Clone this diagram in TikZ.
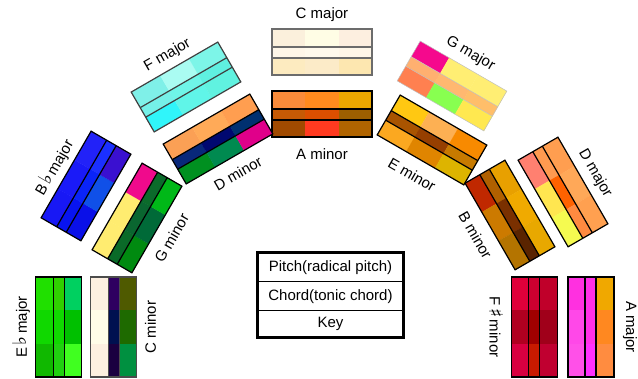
\documentclass[tikz,border=0pt]{standalone}
\usepackage{fontspec}
\setmainfont{Liberation Sans}
\newfontfamily\symfont{DejaVu Sans}
\newcommand\accsym[1]{{\symfont\fontsize{19}{19}\selectfont #1}}
\newcommand\keyblock[9]{%
 \begin{scope}[shift={(#1)},rotate=#2,transform shape]
  \foreach \c [count=\i from 0] in {#3}{\edef\tmpc{\noexpand\definecolor{cc}{HTML}{\c}}\tmpc\fill[cc] (-50+\i*33.3333,5) rectangle ++(33.6,18);}
  \foreach \c [count=\i from 0] in {#4}{\edef\tmpc{\noexpand\definecolor{cc}{HTML}{\c}}\tmpc\fill[cc] (-50+\i*33.3333,-6) rectangle ++(33.6,11);}
  \foreach \c [count=\i from 0] in {#5}{\edef\tmpc{\noexpand\definecolor{cc}{HTML}{\c}}\tmpc\fill[cc] (-50+\i*33.3333,-23) rectangle ++(33.6,17);}
  \draw[blockline,#9] (-50,-23) rectangle (50,23) (-50,-6)--(50,-6) (-50,5)--(50,5);
  \node[lbl] (#8) at (0,#7) {#6};
 \end{scope}}
\begin{document}
\begin{tikzpicture}[x=1pt,y=1pt,
  lbl/.style={font=\fontsize{15}{17}\selectfont, inner sep=0pt},
  blockline/.style={draw=black, line width=1.2pt},
  legcell/.style={draw=black, line width=1pt, minimum width=145pt, inner sep=0pt, font=\fontsize{15}{17}\selectfont}]
\useasboundingbox (0,0) rectangle (638,379);
% majors (outer ring)
\keyblock{322,327}{0}{FBF0DC,FFFDE5,FDEFE0}{FEF6E8,FEF9EC,FEF6E8}{FDEBC0,FCEBC8,FDE7B0}{C major}{37}{Cmaj}{draw=gray!85!black,line width=1.6pt}
\keyblock{186,292}{30}{7FF0E8,AAFCF2,7DF5E8}{75F0E8,6FF5E8,5FF0E0}{30F5FA,60F5E8,60F2E0}{F major}{37}{Fmaj}{draw=black!75}
\keyblock{452,293}{-30}{F5098D,FFEE73,FFEE73}{FFB070,FFB870,FFBE6A}{FF8050,88FF50,FFE850}{G major}{37}{Gmaj}{draw=black!25,line width=0.5pt}
\keyblock{86,193}{60}{1818F5,1A1AF8,2222F8}{0814F0,0A24F8,1B30FF}{0A10E8,1050E8,3A10D0}{B\,\accsym{♭}\,major}{37}{Bbmaj}{}
\keyblock{563,187}{-60}{FF9E50,FFA858,FFA050}{FF9A50,FF6200,FF8A40}{FF8070,FFE650,F5FA50}{D major}{37}{Dmaj}{}
\keyblock{58.5,52}{90}{10B800,10D800,20E000}{20D010,10D800,30D000}{40FF20,00C000,00D060}{E\,\accsym{♭}\,major}{37}{Ebmaj}{}
\keyblock{591,52}{-90}{F0A800,FF8820,FF8C40}{FF30E8,FF30E8,FF30FF}{FF30E0,FF48E8,FF50E8}{A major}{39}{Amaj}{}
% minors (inner ring)
\keyblock{322,265}{0}{F98B3A,FF8A1E,EBA700}{C65A05,DC4F00,9C5F00}{A04A00,FF3A20,B06400}{A minor}{-40}{Amin}{}
\keyblock{218,240}{30}{FBA055,FFAA58,FF9E50}{08287A,000870,003070}{009020,008A50,E0008A}{D minor}{-40}{Dmin}{}
\keyblock{432,239}{-30}{FFC812,FDB053,F88A00}{A95400,963F00,C77A00}{FBA820,E08500,DDB400}{E minor}{-40}{Emin}{}
\keyblock{137,161}{60}{FFEC70,FFEC70,F00A8C}{0A6A28,0A6630,0B6B2B}{008A10,006A38,00B818}{G minor}{-40}{Gmin}{}
\keyblock{510,164}{-60}{E8A000,F0AA00,E8A800}{B06000,7A3000,5A2400}{C02800,CC7A00,B47400}{B minor}{-40}{Bmin}{}
\keyblock{113.5,52}{90}{FDF0E0,FFFDE8,FCEFE0}{1A0040,001050,2E0060}{009040,1E6A00,4F5A00}{C minor}{-37}{Cmin}{draw=black!70}
\keyblock{534.5,52}{-90}{C0002A,A0001A,C00030}{CC0030,A00000,C81A00}{E0003A,B00020,D80040}{F\,\accsym{♯}\,minor}{-38}{Fsmin}{}
% legend
\node[legcell, minimum height=29pt] (pitch) at (330.5,111.5) {Pitch(radical pitch)};
\node[legcell, minimum height=29pt] (chord) at (330.5,82.5) {Chord(tonic chord)};
\node[legcell, minimum height=26pt] (key) at (330.5,55) {Key};
\draw[line width=2.5pt] (pitch.north west) rectangle (key.south east);
\end{tikzpicture}
\end{document}
